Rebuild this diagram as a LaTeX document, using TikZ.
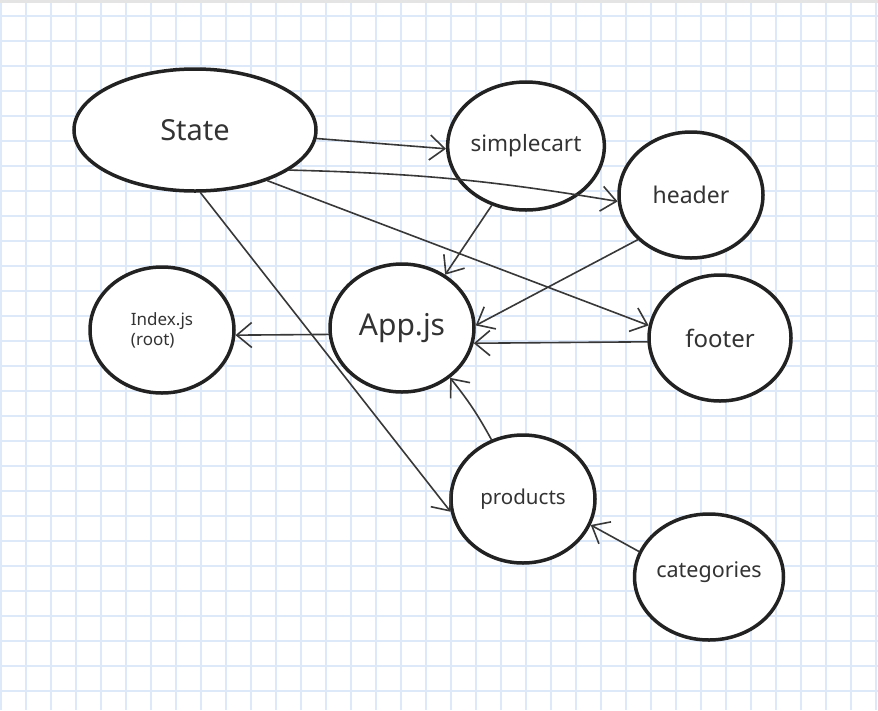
\documentclass[tikz,border=0pt]{standalone}
\usepackage{fontspec}
\setmainfont{Noto Sans}
\usetikzlibrary{arrows.meta, shapes.geometric}
\definecolor{gridln}{HTML}{DDE8F9}
\definecolor{pen}{HTML}{222222}
\definecolor{ink}{HTML}{333333}
\definecolor{topbar}{HTML}{E4E4E4}

\begin{document}
\begin{tikzpicture}[x=1pt, y=-1pt, >={Straight Barb[length=15pt, width=25pt]},
    comp/.style={ellipse, draw=pen, line width=3.5pt, fill=white, inner sep=0pt, text=ink,
                 minimum width=144pt, minimum height=126pt},
    link/.style={->, draw=pen!90, line width=1.6pt, line cap=round, line join=round}]

  % squared paper
  \useasboundingbox (0,0) rectangle (878,710);
  \fill[white] (0,0) rectangle (878,710);
  \foreach \x in {1,26,...,876} \draw[gridln, line width=2pt] (\x,3) -- (\x,710);
  \foreach \y in {16,41,...,691} \draw[gridln, line width=2pt] (0,\y) -- (878,\y);
  \fill[topbar] (0,0) rectangle (878,3);

  % the components
  \node[comp, minimum width=242pt, minimum height=122pt, font=\fontsize{29}{32}\selectfont] (state) at (195,130) {State};
  \node[comp, minimum height=128pt, font=\fontsize{22.5}{25}\selectfont] (simplecart) at (526,146) {simplecart};
  \node[comp, font=\fontsize{23}{26}\selectfont] (header) at (691,195) {header};
  \node[comp, minimum height=128pt, font=\fontsize{30}{33}\selectfont] (app) at (402,328) {App.js};
  \node[comp, align=left, font=\fontsize{17}{20}\selectfont] (index) at (162,330) {Index.js\\(root)};
  \node[comp, minimum width=142pt, font=\fontsize{24}{27}\selectfont] (footer) at (720,338) {footer};
  \node[comp, minimum height=128pt, font=\fontsize{20.5}{23}\selectfont] (products) at (523,499) {products};
  \node[comp, text depth=14pt, font=\fontsize{21.5}{24}\selectfont] (categories) at (709,577) {categories};

  % who passes what to whom
  \draw[link] (state.-4) -- (simplecart.182);
  \draw[link] (state.-23) to[bend left=4] (header.185);
  \draw[link] (state.-35) -- (footer.170);
  \draw[link] (state.-85) -- (products.190);
  \draw[link] (simplecart.-120) -- (app.51);
  \draw[link] (header.-140) -- (app.2);
  \draw[link] (footer.183) -- (app.-12);
  \draw[link] (app.185) -- (index.-4);
  \draw[link] (products.118) to[bend right=5] (app.-46);
  \draw[link] (categories.160) -- (products.-21);
\end{tikzpicture}
\end{document}
